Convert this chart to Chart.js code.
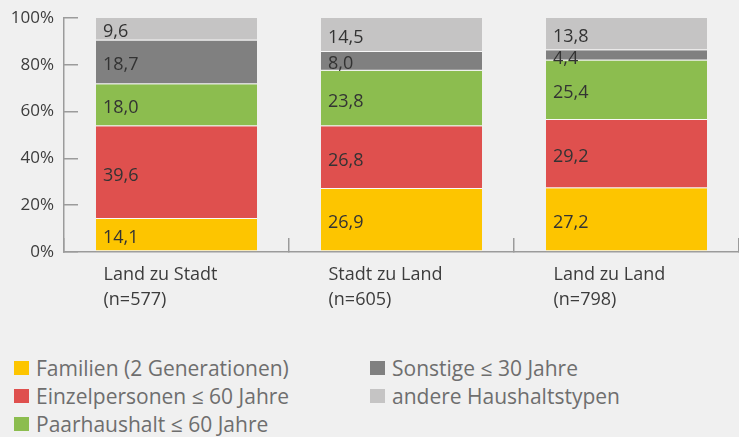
<!DOCTYPE html>
<html>
<head>
<meta charset="utf-8">
<script src="https://cdn.jsdelivr.net/npm/chart.js@4/dist/chart.umd.min.js"></script>
<style>
  body { margin: 0; background: #f0f0f0; }
  #wrap { position: relative; width: 739px; height: 437px; background: #f0f0f0; }
  #legend {
    position: absolute; left: 14px; top: 354px;
    display: grid; grid-auto-flow: column;
    grid-template-rows: repeat(3, 28px); grid-template-columns: 356px auto;
    font-family: "Open Sans", sans-serif; font-size: 21px; color: #6e6e6e;
  }
  #legend .item { display: flex; align-items: center; white-space: nowrap; }
  #legend .box { width: 15px; height: 14px; margin-right: 7px; }
</style>
</head>
<body>
<div id="wrap">
  <canvas id="householdChart" width="739" height="330"></canvas>
  <div id="legend"></div>
</div>
<script>
const categories = [['Land zu Stadt', '(n=577)'], ['Stadt zu Land', '(n=605)'], ['Land zu Land', '(n=798)']];
const seriesNames = ['Familien (2 Generationen)', 'Einzelpersonen ≤ 60 Jahre', 'Paarhaushalt ≤ 60 Jahre', 'Sonstige ≤ 30 Jahre', 'andere Haushaltstypen'];
const familien = [14.1, 26.9, 27.2];
const einzelpersonen = [39.6, 26.8, 29.2];
const paarhaushalt = [18.0, 23.8, 25.4];
const sonstige = [18.7, 8.0, 4.4];
const andere = [9.6, 14.5, 13.8];
const seriesColors = ['#fdc500', '#df504e', '#8cbd4f', '#808080', '#c5c4c4'];

const fontFamily = '"Open Sans", sans-serif';
const axisColor = '#9b9b9b';

// value labels inside each segment, left aligned
const segmentLabels = {
    id: 'segmentLabels',
    afterDatasetsDraw(chart) {
        const ctx = chart.ctx;
        ctx.save();
        ctx.font = '18px ' + fontFamily;
        ctx.fillStyle = '#333333';
        ctx.textAlign = 'left';
        ctx.textBaseline = 'middle';
        chart.data.datasets.forEach((ds, i) => {
            const meta = chart.getDatasetMeta(i);
            meta.data.forEach((bar, j) => {
                const p = bar.getProps(['x', 'y', 'base', 'width'], true);
                const text = ds.data[j].toFixed(1).replace('.', ',');
                ctx.fillText(text, p.x - p.width / 2 + 7, (p.y + p.base) / 2 + 3);
            });
        });
        ctx.restore();
    }
};

const datasets = [familien, einzelpersonen, paarhaushalt, sonstige, andere].map((values, i) => ({
    label: seriesNames[i],
    data: values,
    backgroundColor: seriesColors[i],
    borderColor: 'rgba(255, 255, 255, 0.55)',
    borderWidth: { top: 0, left: 0, right: 0, bottom: 1 },
    borderSkipped: false,
    barPercentage: 0.716,
    categoryPercentage: 1
}));

const ctx = document.getElementById('householdChart').getContext('2d');
const chart = new Chart(ctx, {
    type: 'bar',
    data: { labels: categories, datasets: datasets },
    options: {
        responsive: false,
        animation: false,
        layout: { padding: { top: 18, left: 0, right: 0, bottom: 0 } },
        scales: {
            x: {
                stacked: true,
                grid: { drawOnChartArea: false, tickLength: -14, color: axisColor, lineWidth: 1.5 },
                border: { color: axisColor, width: 1.5 },
                ticks: {
                    align: 'start',
                    labelOffset: -73,
                    padding: 24,
                    color: '#3c3c3c',
                    font: { family: fontFamily, size: 18, lineHeight: 1.4 }
                },
                afterFit(scale) {
                    scale.height = 78;
                    scale.paddingLeft = 0;
                    scale.paddingRight = 0;
                }
            },
            y: {
                stacked: true,
                min: 0,
                max: 100,
                grid: { drawOnChartArea: false, tickLength: -14, color: axisColor, lineWidth: 1.5 },
                border: { color: axisColor, width: 1.5 },
                ticks: {
                    stepSize: 20,
                    padding: 24,
                    color: '#3c3c3c',
                    font: { family: fontFamily, size: 17 },
                    callback: v => v + '%'
                },
                afterFit(scale) {
                    scale.width = 64;
                    scale.paddingTop = 0;
                    scale.paddingBottom = 0;
                }
            }
        },
        plugins: {
            legend: { display: false },
            tooltip: { enabled: false }
        }
    },
    plugins: [segmentLabels]
});

// legend in two columns, like the original
const legendEl = document.getElementById('legend');
chart.data.datasets.forEach(ds => {
    const item = document.createElement('div');
    item.className = 'item';
    const box = document.createElement('span');
    box.className = 'box';
    box.style.background = ds.backgroundColor;
    item.appendChild(box);
    item.appendChild(document.createTextNode(ds.label));
    legendEl.appendChild(item);
});
</script>
</body>
</html>
